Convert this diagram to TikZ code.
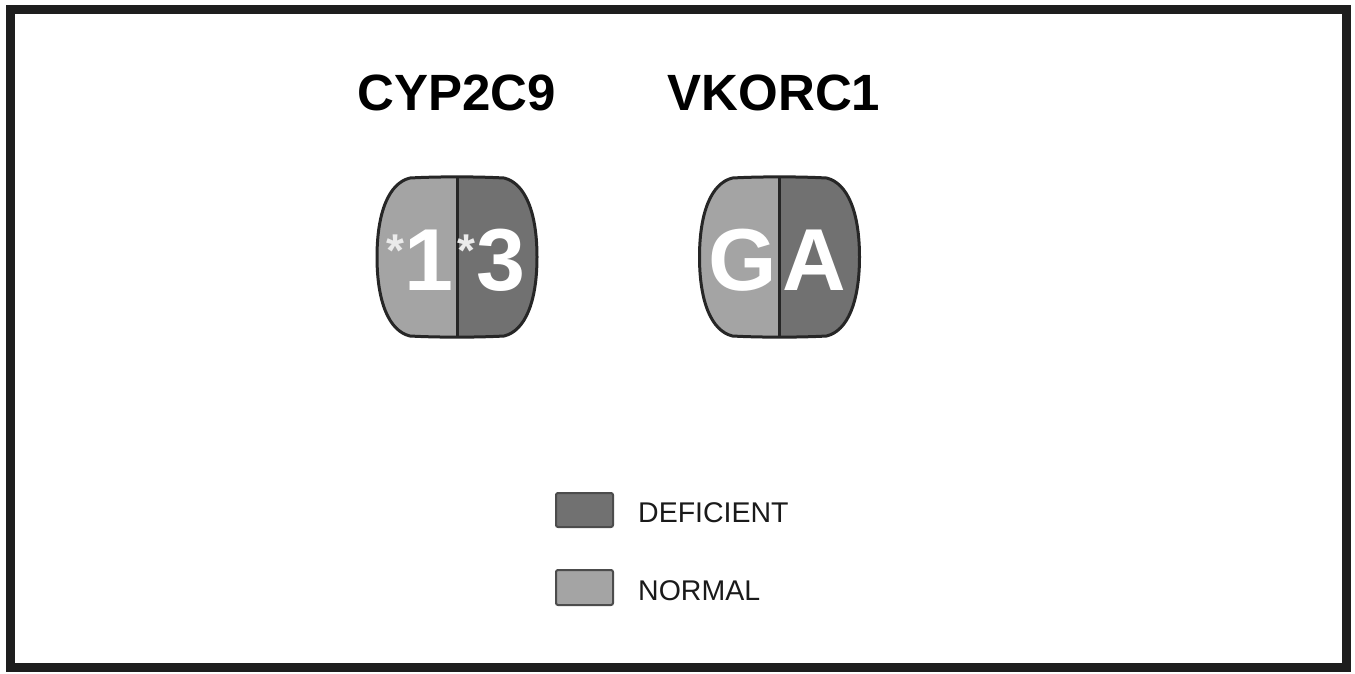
\documentclass[tikz,border=0pt]{standalone}
\usepackage{fontspec}
\setmainfont{Liberation Sans}
\definecolor{normalgray}{HTML}{A4A4A4}
\definecolor{deficientgray}{HTML}{717171}
\definecolor{framegray}{HTML}{1E1E1E}
\definecolor{inkgray}{HTML}{1A1A1A}
\newcommand\fsz[1]{\fontsize{#1}{#1}\selectfont}
\tikzset{
  % barrel-shaped genotype capsule, centred on the pic origin
  capsuleshape/.style={insert path={
    (-47,-79) .. controls (-20,-80.5) and (20,-80.5) .. (47,-79)
    .. controls (68,-74) and (80,-45) .. (80,0)
    .. controls (80,45) and (68,74) .. (47,79)
    .. controls (20,80.5) and (-20,80.5) .. (-47,79)
    .. controls (-68,74) and (-80,45) .. (-80,0)
    .. controls (-80,-45) and (-68,-74) .. (-47,-79) -- cycle}},
  capsule/.pic={
    \path[fill=normalgray, capsuleshape];
    \begin{scope}
      \clip (0,-90) rectangle (90,90);
      \path[fill=deficientgray, capsuleshape];
    \end{scope}
    \draw[line width=3pt, black!85, capsuleshape];
    \draw[line width=3pt, black!85] (0,-79.5) -- (0,79.5);
  },
  title/.style={anchor=base, inner sep=0pt, text=black, font=\fsz{51}\bfseries},
  allele/.style={anchor=base, inner sep=0pt, text=white, font=\fsz{88}\bfseries},
  star/.style={anchor=base, inner sep=0pt, text=white!92!black, font=\fsz{46}\bfseries},
  legendbox/.style={draw=black!70, line width=2pt, rounded corners=2pt},
  legendtext/.style={anchor=base west, inner sep=0pt, text=inkgray, font=\fsz{28.5}},
}
\begin{document}
\begin{tikzpicture}[x=1pt, y=-1pt]
  \useasboundingbox (0,0) rectangle (1355,673);
  \fill[white] (0,0) rectangle (1355,673);
  % outer frame
  \draw[line width=9pt, framegray] (10.5,9) rectangle (1346,667);

  % gene names
  \node[title] (cyp) at (456.5,110) {CYP2C9};
  \node[title] (vko) at (774,110) {VKORC1};

  % genotype capsules
  \pic at (457,257) {capsule};
  \pic at (779.5,257) {capsule};

  % CYP2C9 alleles *1 / *3
  \node[star] (s1) at (395,266) {*};
  \node[allele] (a1) at (429,290) {1};
  \node[star] (s3) at (466,266) {*};
  \node[allele] (a3) at (501,290) {3};

  % VKORC1 alleles G / A
  \node[allele] (ag) at (742.5,290) {G};
  \node[allele] (aa) at (814,290) {A};

  % legend
  \draw[legendbox, fill=deficientgray] (556,493) rectangle (613,527);
  \draw[legendbox, fill=normalgray] (556,570) rectangle (613,605);
  \node[legendtext] (ldef) at (638,522) {DEFICIENT};
  \node[legendtext] (lnor) at (638,600) {NORMAL};
\end{tikzpicture}
\end{document}
